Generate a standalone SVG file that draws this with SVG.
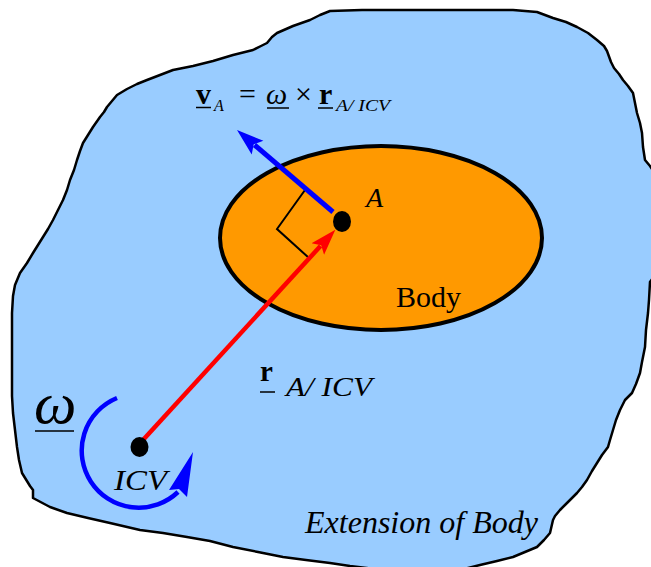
<svg xmlns="http://www.w3.org/2000/svg" width="651" height="567" viewBox="0 0 651 567">
  <style>
    text { font-family: 'Liberation Serif', 'Times New Roman', Times, serif; fill: #000000; }
    .it { font-style: italic; }
    .bd { font-weight: bold; }
    .uline { stroke: #000000; stroke-width: 1.5; }
  </style>
  <defs>
    <marker id="headBlue" markerUnits="userSpaceOnUse" markerWidth="30" markerHeight="20" viewBox="0 -10 30 20" refX="4" refY="0" orient="auto">
      <path d="M0,-9 L27,0 L0,9 L5,0 Z" fill="#0000FF"/>
    </marker>
    <marker id="headRed" markerUnits="userSpaceOnUse" markerWidth="30" markerHeight="20" viewBox="0 -10 30 20" refX="4" refY="0" orient="auto">
      <path d="M0,-8.5 L26,0 L0,8.5 L5,0 Z" fill="#FF0000"/>
    </marker>
  </defs>

  <g id="extension">
    <path d="M330,11 L362,10 L420,10 L470,10 L513,10 L537,12 L553,18 L566,22 L577,27 L588,33 L597,40 L604,46 L607,51 L611,62 L614,68 L619,74 L623,80 L628,86 L633,93 L635,103 L637,113 L640,123 L642,133 L643,147 L645,160 L650,166 L656,175 L658,230 L655,275 L650,282 L649,300 L648,313 L646,330 L645,347 L642,362 L640,373 L636,384 L632,393 L625,400 L620,410 L616,420 L613,430 L610,440 L608,447 L602,455 L597,463 L592,471 L587,480 L582,487 L577,493 L568,502 L560,510 L555,516 L553,520 L550,533 L544,540 L537,547 L525,552 L513,557 L497,561 L480,565 L460,570 L400,572 L350,566 L330,563 L306,560 L283,557 L258,552 L233,547 L210,541 L187,537 L163,533 L140,530 L110,523 L88,518 L67,513 L50,507 L33,498 L33,490 L30,486 L22,473 L19,460 L17,447 L15,430 L13,413 L12,396 L12,380 L12,345 L12,313 L13,296 L15,285 L20,273 L27,263 L33,253 L43,237 L48,229 L53,220 L58,210 L63,200 L67,190 L70,180 L74,170 L77,160 L80,151 L83,143 L88,135 L93,127 L100,117 L104,112 L107,107 L117,95 L127,89 L137,84 L147,80 L160,75 L173,70 L193,66 L213,61 L233,55 L253,50 L261,46 L267,43 L272,37 L277,33 L293,26 L310,20 L320,15 Z" fill="#99CCFF" stroke="#000" stroke-width="2.5" stroke-linejoin="round"/>
    <text class="it" x="305" y="533" font-size="31" textLength="233" lengthAdjust="spacingAndGlyphs">Extension of Body</text>
  </g>

  <g id="body">
    <ellipse cx="381" cy="238" rx="161" ry="92" fill="#FF9900" stroke="#000" stroke-width="4"/>
    <text x="396" y="307" font-size="30">Body</text>
  </g>

  <g id="right-angle">
    <polyline points="305,190 277,229 309,258" fill="none" stroke="#000" stroke-width="2"/>
  </g>

  <g id="connectors">
    <line id="v-arrow" x1="333" y1="212" x2="254.5" y2="145" stroke="#0000FF" stroke-width="5" marker-end="url(#headBlue)"/>
    <line id="r-arrow" x1="143" y1="440" x2="320.5" y2="246" stroke="#FF0000" stroke-width="4.5" marker-end="url(#headRed)"/>
    <g id="omega-arrow">
      <path d="M117,398 A57,57 0 1 0 178,492" fill="none" stroke="#0000FF" stroke-width="4.5"/>
      <polygon points="193,452 169,490 179,489 187,497" fill="#0000FF"/>
    </g>
  </g>

  <g id="pointA">
    <ellipse cx="342" cy="221.5" rx="9" ry="10.5" fill="#000"/>
    <text class="it" x="366" y="207" font-size="28">A</text>
  </g>

  <g id="pointICV">
    <ellipse cx="139.5" cy="447" rx="9" ry="10" fill="#000"/>
    <text class="it" x="114" y="490" font-size="30" textLength="53" lengthAdjust="spacingAndGlyphs">ICV</text>
  </g>

  <g id="omega-label">
    <text class="it" x="34" y="423" font-size="60">ω</text>
    <line class="uline" x1="35" y1="431" x2="74" y2="431" stroke-width="2"/>
  </g>

  <g id="r-label">
    <text class="bd" x="260" y="381" font-size="29">r</text>
    <line class="uline" x1="260" y1="392" x2="275" y2="392"/>
    <text class="it" x="286" y="396" font-size="28" textLength="86" lengthAdjust="spacingAndGlyphs">A/ ICV</text>
  </g>

  <g id="equation">
    <text class="bd" x="196" y="104" font-size="30">v</text>
    <line class="uline" x1="196" y1="107.5" x2="211" y2="107.5"/>
    <text class="it" x="214" y="111" font-size="16">A</text>
    <text x="239" y="104" font-size="30">=</text>
    <text class="it" x="266" y="104" font-size="30">ω</text>
    <line class="uline" x1="267" y1="108" x2="289" y2="108"/>
    <text x="295" y="104" font-size="30">×</text>
    <text class="bd" x="319" y="104" font-size="30">r</text>
    <line class="uline" x1="318" y1="108" x2="333" y2="108"/>
    <text class="it" x="336" y="111" font-size="16" textLength="54" lengthAdjust="spacingAndGlyphs">A/ ICV</text>
  </g>
</svg>
